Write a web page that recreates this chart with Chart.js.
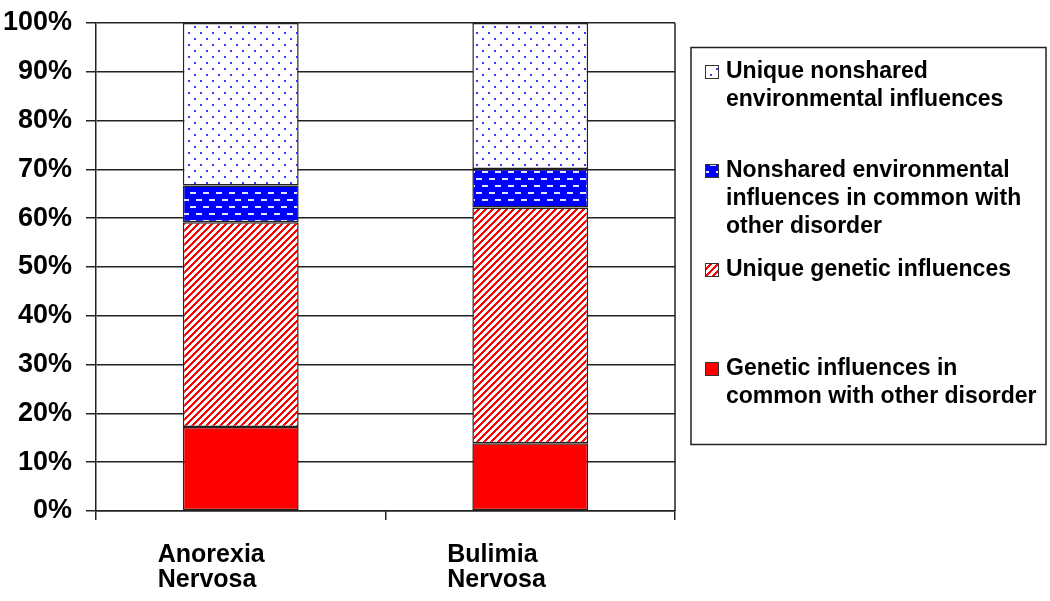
<!DOCTYPE html>
<html>
<head>
<meta charset="utf-8">
<script src="https://cdn.jsdelivr.net/npm/chart.js@4/dist/chart.umd.min.js"></script>
<style>
    html, body { margin: 0; padding: 0; background: #fff; }
    #wrap { width: 1050px; height: 601px; }
</style>
</head>
<body>
<div id="wrap"><canvas id="geneticChart" width="1050" height="601"></canvas></div>
<script>
// categories (two-line labels) and stacked components, in % of variance
const categories = [['Anorexia', 'Nervosa'], ['Bulimia', 'Nervosa']];
const geneticCommon = [17.2, 13.9];
const geneticUnique = [42.0, 48.3];
const envCommon = [7.5, 7.9];
const envUnique = [33.3, 29.9];
const yTicks = [0, 10, 20, 30, 40, 50, 60, 70, 80, 90, 100];
const seriesLabels = [
    ['Genetic influences in', 'common with other disorder'],
    ['Unique genetic influences'],
    ['Nonshared environmental', 'influences in common with', 'other disorder'],
    ['Unique nonshared', 'environmental influences']
];

const FONT = '"Liberation Sans", Arial, Helvetica, sans-serif';
const LINE = '#222';

const canvas = document.getElementById('geneticChart');
const ctx = canvas.getContext('2d');

function makePattern(w, h, bg, paint) {
    const c = document.createElement('canvas');
    c.width = w;
    c.height = h;
    const g = c.getContext('2d');
    g.fillStyle = bg;
    g.fillRect(0, 0, w, h);
    paint(g);
    return ctx.createPattern(c, 'repeat');
}

// red "/" hatch on white
const hatchRed = makePattern(7, 7, '#ffffff', g => {
    g.fillStyle = '#ff0000';
    for (let x = 0; x < 7; x++) {
        for (let y = 0; y < 7; y++) {
            if ((x + y) % 7 < 3) g.fillRect(x, y, 1, 1);
        }
    }
});

// white dashes on blue
const dashBlue = makePattern(13, 14, '#0000ff', g => {
    g.fillStyle = '#e4e4ff';
    g.fillRect(1, 3, 6, 2);
    g.fillRect(8, 10, 5, 2);
    g.fillRect(0, 10, 1, 2);
});

// blue dots on white
const dotsBlue = makePattern(12, 12, '#ffffff', g => {
    g.fillStyle = '#3a3aff';
    g.fillRect(2, 2, 2, 2);
    g.fillRect(8, 8, 2, 2);
});

const fills = ['#ff0000', hatchRed, dashBlue, dotsBlue];
const seriesValues = [geneticCommon, geneticUnique, envCommon, envUnique];

const legendBox = {
    id: 'legendBox',
    afterDraw(chart) {
        const c = chart.ctx;
        const area = chart.chartArea;
        c.save();
        // right edge of the plot frame
        c.strokeStyle = LINE;
        c.lineWidth = 1.5;
        c.beginPath();
        c.moveTo(area.right, area.top);
        c.lineTo(area.right, area.bottom);
        c.stroke();

        c.strokeRect(691, 47.5, 355, 397);

        const sets = chart.data.datasets.slice().reverse();
        c.font = 'bold 23px ' + FONT;
        c.textBaseline = 'middle';
        c.textAlign = 'left';
        sets.forEach((ds, i) => {
            const y0 = 72 + i * 99;
            c.fillStyle = ds.backgroundColor;
            c.fillRect(705, y0 - 7, 14, 14);
            c.lineWidth = 1;
            c.strokeStyle = '#333';
            c.strokeRect(705.5, y0 - 6.5, 13, 13);
            c.fillStyle = '#000';
            ds.legendLines.forEach((t, j) => c.fillText(t, 726, y0 + j * 27.6));
        });
        c.restore();
    }
};

new Chart(ctx, {
    type: 'bar',
    data: {
        labels: categories,
        datasets: seriesValues.map((vals, i) => ({
            label: seriesLabels[i].join(' '),
            legendLines: seriesLabels[i],
            data: vals,
            backgroundColor: fills[i],
            borderColor: LINE,
            borderWidth: 1.5,
            borderSkipped: false,
            barPercentage: 0.4,
            categoryPercentage: 1
        }))
    },
    options: {
        responsive: false,
        animation: false,
        layout: {
            padding: { left: 0, top: 10, right: 375, bottom: 0 }
        },
        plugins: {
            legend: { display: false },
            tooltip: { enabled: false }
        },
        scales: {
            x: {
                stacked: true,
                offset: true,
                grid: {
                    display: true,
                    drawOnChartArea: false,
                    drawTicks: true,
                    tickLength: 9,
                    color: LINE,
                    lineWidth: 1.5,
                    offset: true
                },
                border: { display: true, color: LINE, width: 1.5 },
                ticks: {
                    color: '#000',
                    align: 'start',
                    labelOffset: -83,
                    padding: 23,
                    maxRotation: 0,
                    autoSkip: false,
                    font: { family: FONT, size: 25, weight: 'bold', lineHeight: 1.0 }
                },
                afterFit: (scale) => { scale.height = 90; }
            },
            y: {
                stacked: true,
                min: 0,
                max: 100,
                afterBuildTicks: (scale) => { scale.ticks = yTicks.map(v => ({ value: v })); },
                grid: {
                    color: LINE,
                    lineWidth: 1.5,
                    drawTicks: true,
                    tickLength: 10
                },
                border: { display: true, color: LINE, width: 1.5 },
                ticks: {
                    color: '#000',
                    padding: 14,
                    font: { family: FONT, size: 27, weight: 'bold', lineHeight: 0.67 },
                    callback: (v) => v + '%'
                },
                afterFit: (scale) => { scale.width = 96; }
            }
        }
    },
    plugins: [legendBox]
});
</script>
</body>
</html>
